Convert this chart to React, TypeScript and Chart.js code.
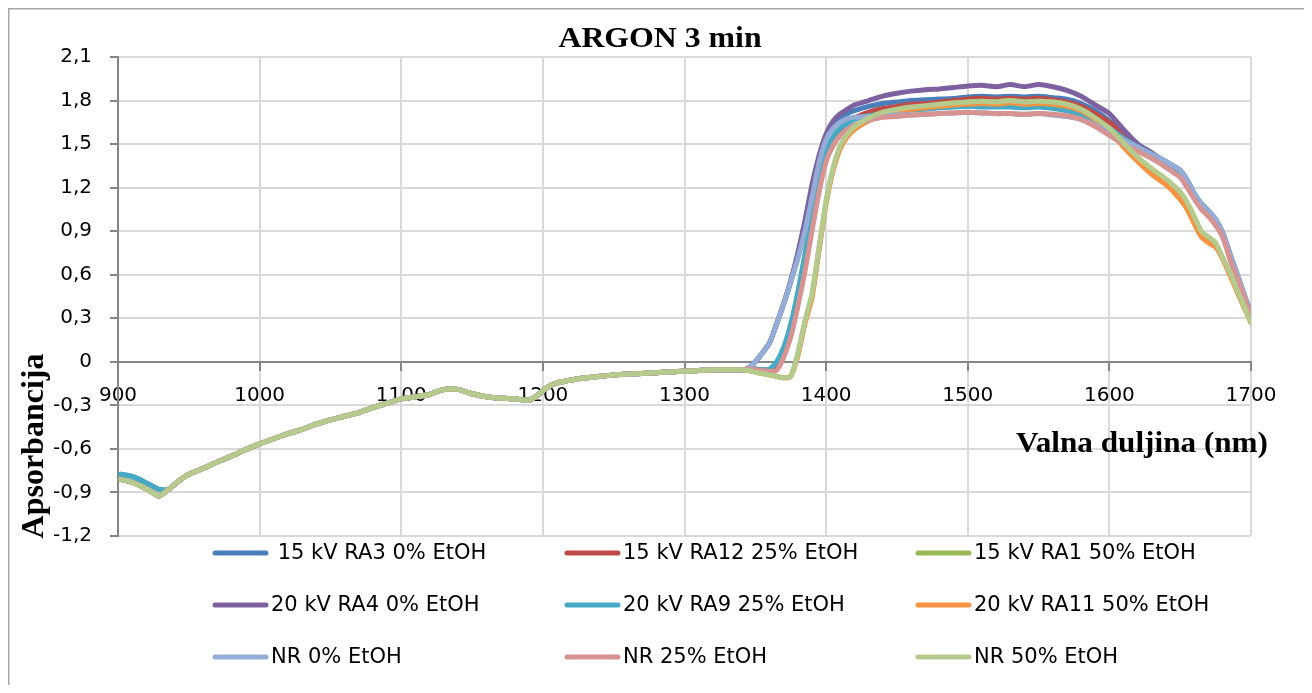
import React, { useEffect, useRef } from 'react';
import { Chart, registerables } from 'chart.js';

Chart.register(...registerables);

const TITLE = 'ARGON 3 min';
const X_TITLE = 'Valna duljina (nm)';
const Y_TITLE = 'Apsorbancija';

// Shared spectrum where all nine curves overlap (nm / absorbance)
const BASE_WL = [
  902, 910, 915, 920, 925, 929, 935, 940, 945, 950, 960, 970, 980, 990, 1000, 1010, 1020, 1030, 1040, 1050,
  1060, 1070, 1080, 1090, 1100, 1110, 1120, 1125, 1130, 1140, 1150, 1160, 1170, 1180, 1190, 1195, 1200, 1205,
  1210, 1220, 1230, 1240, 1250, 1260, 1270, 1280, 1290, 1300, 1310, 1320, 1330, 1340,
];
const BASE_ABS = [
  -0.81, -0.83, -0.85, -0.875, -0.905, -0.925, -0.885, -0.845, -0.805, -0.775, -0.735, -0.69, -0.65, -0.605,
  -0.565, -0.53, -0.495, -0.465, -0.43, -0.4, -0.375, -0.35, -0.315, -0.285, -0.255, -0.24, -0.225, -0.205,
  -0.19, -0.19, -0.22, -0.24, -0.25, -0.255, -0.265, -0.24, -0.2, -0.165, -0.145, -0.125, -0.11, -0.1, -0.09,
  -0.085, -0.08, -0.075, -0.07, -0.065, -0.06, -0.055, -0.055, -0.055,
];
// Start of the curves that begin slightly higher (902–935 nm)
const HEAD_HIGH = [-0.775, -0.79, -0.81, -0.835, -0.86, -0.88, -0.88];

// Part where the curves separate
const TAIL_WL = [
  1345, 1350, 1355, 1360, 1365, 1370, 1375, 1380, 1385, 1390, 1395, 1400, 1405, 1410, 1415, 1420,
  1430, 1440, 1450, 1460, 1470, 1480, 1490, 1500, 1510, 1520, 1530, 1540, 1550, 1560, 1570, 1580, 1590,
  1600, 1610, 1620, 1630, 1640, 1650, 1655, 1660, 1665, 1670, 1675, 1680, 1685, 1690, 1695, 1700,
];

const T_15KV_RA3 = [
  -0.045, 0.0, 0.06, 0.13, 0.26, 0.4, 0.55, 0.72, 0.92, 1.15, 1.4, 1.56, 1.62, 1.67, 1.71, 1.73,
  1.76, 1.78, 1.79, 1.8, 1.805, 1.81, 1.815, 1.825, 1.83, 1.825, 1.83, 1.825, 1.83, 1.82, 1.81, 1.78, 1.73,
  1.66, 1.58, 1.5, 1.43, 1.38, 1.32, 1.25, 1.16, 1.09, 1.04, 0.98, 0.89, 0.75, 0.61, 0.47, 0.33,
];
const T_15KV_RA12 = [
  -0.05, -0.05, -0.055, -0.055, -0.03, 0.08, 0.24, 0.46, 0.72, 1.0, 1.25, 1.44, 1.54, 1.6, 1.65, 1.68,
  1.72, 1.745, 1.76, 1.775, 1.78, 1.79, 1.8, 1.81, 1.815, 1.81, 1.815, 1.81, 1.815, 1.805, 1.79, 1.76, 1.71,
  1.65, 1.57, 1.49, 1.42, 1.37, 1.31, 1.24, 1.15, 1.08, 1.03, 0.975, 0.885, 0.74, 0.6, 0.46, 0.32,
];
const T_15KV_RA1 = [
  -0.06, -0.07, -0.08, -0.09, -0.1, -0.11, -0.1, 0.05, 0.27, 0.45, 0.78, 1.1, 1.33, 1.48, 1.56, 1.61,
  1.67, 1.71, 1.735, 1.75, 1.76, 1.77, 1.78, 1.79, 1.795, 1.79, 1.8, 1.79, 1.795, 1.79, 1.775, 1.74, 1.68,
  1.6, 1.5, 1.4, 1.32, 1.25, 1.16, 1.09, 0.99, 0.89, 0.85, 0.81, 0.71, 0.61, 0.49, 0.38, 0.27,
];
const T_20KV_RA4 = [
  -0.045, 0.0, 0.06, 0.13, 0.26, 0.4, 0.56, 0.75, 0.97, 1.22, 1.42, 1.57, 1.66, 1.71, 1.74, 1.77,
  1.8, 1.83, 1.85, 1.865, 1.875, 1.88, 1.89, 1.9, 1.905, 1.895, 1.91, 1.895, 1.91, 1.895, 1.87, 1.83, 1.77,
  1.71, 1.6, 1.5, 1.44, 1.37, 1.31, 1.24, 1.15, 1.085, 1.035, 0.98, 0.885, 0.74, 0.6, 0.46, 0.32,
];
const T_20KV_RA9 = [
  -0.05, -0.05, -0.055, -0.05, 0.0, 0.1, 0.26, 0.48, 0.74, 1.02, 1.27, 1.45, 1.55, 1.61, 1.64, 1.67,
  1.695, 1.71, 1.72, 1.735, 1.74, 1.75, 1.755, 1.76, 1.755, 1.755, 1.755, 1.75, 1.755, 1.745, 1.73, 1.705, 1.66,
  1.61, 1.54, 1.48, 1.43, 1.37, 1.31, 1.25, 1.16, 1.085, 1.035, 0.98, 0.885, 0.74, 0.6, 0.46, 0.33,
];
const T_20KV_RA11 = [
  -0.06, -0.07, -0.08, -0.09, -0.1, -0.11, -0.1, 0.04, 0.26, 0.44, 0.77, 1.09, 1.32, 1.47, 1.55, 1.6,
  1.66, 1.7, 1.725, 1.74, 1.75, 1.76, 1.77, 1.775, 1.78, 1.775, 1.785, 1.775, 1.78, 1.775, 1.76, 1.73, 1.67,
  1.59, 1.48, 1.38, 1.29, 1.22, 1.12, 1.05, 0.95, 0.86, 0.82, 0.79, 0.71, 0.6, 0.49, 0.38, 0.27,
];
const T_NR_0 = [
  -0.045, 0.0, 0.06, 0.13, 0.26, 0.4, 0.55, 0.71, 0.9, 1.13, 1.37, 1.53, 1.61, 1.65, 1.675, 1.685,
  1.69, 1.7, 1.7, 1.7, 1.705, 1.71, 1.715, 1.72, 1.715, 1.71, 1.71, 1.705, 1.71, 1.7, 1.69, 1.67, 1.63,
  1.58, 1.53, 1.48, 1.43, 1.38, 1.32, 1.25, 1.16, 1.09, 1.04, 0.985, 0.89, 0.75, 0.61, 0.47, 0.33,
];
const T_NR_25 = [
  -0.05, -0.055, -0.06, -0.065, -0.06, 0.03, 0.17, 0.38, 0.62, 0.9, 1.17, 1.38, 1.49, 1.56, 1.6, 1.63,
  1.665, 1.685, 1.69, 1.7, 1.705, 1.71, 1.715, 1.72, 1.715, 1.71, 1.71, 1.705, 1.71, 1.705, 1.695, 1.67, 1.62,
  1.56, 1.5, 1.45, 1.4, 1.34, 1.27, 1.2, 1.12, 1.05, 1.0, 0.94, 0.86, 0.71, 0.58, 0.45, 0.31,
];
const T_NR_50 = [
  -0.06, -0.07, -0.08, -0.09, -0.1, -0.11, -0.1, 0.06, 0.28, 0.47, 0.79, 1.11, 1.34, 1.49, 1.57, 1.62,
  1.68, 1.72, 1.74, 1.755, 1.765, 1.775, 1.785, 1.79, 1.795, 1.79, 1.8, 1.79, 1.795, 1.79, 1.775, 1.74, 1.68,
  1.61, 1.51, 1.41, 1.33, 1.26, 1.17, 1.1, 1.0, 0.9, 0.86, 0.82, 0.72, 0.62, 0.5, 0.39, 0.27,
];

const SERIES_LABELS = [
  ' 15 kV RA3 0% EtOH',
  '15 kV RA12 25% EtOH',
  '15 kV RA1 50% EtOH',
  '20 kV RA4 0% EtOH',
  '20 kV RA9 25% EtOH',
  '20 kV RA11 50% EtOH',
  'NR 0% EtOH',
  'NR 25% EtOH',
  'NR 50% EtOH',
];
const SERIES_TAILS = [T_15KV_RA3, T_15KV_RA12, T_15KV_RA1, T_20KV_RA4, T_20KV_RA9, T_20KV_RA11, T_NR_0, T_NR_25, T_NR_50];
const SERIES_HIGH_START = [true, false, false, false, true, false, false, false, false];
const SERIES_COLORS = ['#4A7EBB', '#BE4B48', '#98B954', '#7D60A0', '#46AAC5', '#F69240', '#93ADD6', '#D69391', '#B5CB8E'];

const Y_MIN = -1.2;
const Y_MAX = 2.1;
const Y_STEP = 0.3;
const X_MIN = 900;
const X_MAX = 1700;
const X_STEP = 100;

const CANVAS_W = 1296;
const CANVAS_H = 677;

function buildSeries(i: number) {
  const wl = [...BASE_WL, ...TAIL_WL];
  const base = SERIES_HIGH_START[i] ? [...HEAD_HIGH, ...BASE_ABS.slice(HEAD_HIGH.length)] : BASE_ABS;
  const abs = [...base, ...SERIES_TAILS[i]];
  return wl.map((x, k) => ({ x, y: abs[k] }));
}

function stretchedText(
  ctx: CanvasRenderingContext2D,
  text: string,
  x: number,
  y: number,
  sx: number,
  align: CanvasTextAlign
) {
  ctx.save();
  ctx.translate(x, y);
  ctx.scale(sx, 1);
  ctx.textAlign = align;
  ctx.fillText(text, 0, 0);
  ctx.restore();
}

const decorPlugin = {
  id: 'decor',
  beforeDraw(chart: any) {
    const ctx = chart.ctx as CanvasRenderingContext2D;
    ctx.save();
    ctx.fillStyle = '#ffffff';
    ctx.fillRect(0, 0, chart.width, chart.height);
    ctx.strokeStyle = '#a6a6a6';
    ctx.lineWidth = 1.5;
    ctx.beginPath();
    ctx.moveTo(0.75, chart.height);
    ctx.lineTo(0.75, 0.75);
    ctx.lineTo(chart.width, 0.75);
    ctx.stroke();
    ctx.restore();
  },
  afterDraw(chart: any) {
    const ctx = chart.ctx as CanvasRenderingContext2D;
    ctx.save();
    ctx.fillStyle = '#000000';
    ctx.textBaseline = 'alphabetic';
    // title
    ctx.font = 'bold 30px "Liberation Serif", "Times New Roman", serif';
    stretchedText(ctx, TITLE, 652, 39, 1.06, 'center');
    // x axis title
    ctx.font = 'bold 30px "Liberation Serif", "Times New Roman", serif';
    stretchedText(ctx, X_TITLE, 1260, 444, 1.04, 'right');
    // y axis title
    ctx.save();
    ctx.translate(27, 438);
    ctx.rotate(-Math.PI / 2);
    ctx.font = 'bold 32px "Liberation Serif", "Times New Roman", serif';
    ctx.textAlign = 'center';
    ctx.textBaseline = 'middle';
    ctx.fillText(Y_TITLE, 0, 0);
    ctx.restore();

    // legend: 3 x 3 grid
    const colX = [205, 557, 908];
    const rowY = [545, 597, 649];
    ctx.font = '21px "DejaVu Sans", sans-serif';
    ctx.textBaseline = 'middle';
    ctx.textAlign = 'left';
    chart.data.datasets.forEach((ds: any, i: number) => {
      const cx = colX[i % 3];
      const cy = rowY[Math.floor(i / 3)];
      ctx.strokeStyle = ds.borderColor;
      ctx.lineWidth = 5;
      ctx.lineCap = 'round';
      ctx.beginPath();
      ctx.moveTo(cx + 2, cy);
      ctx.lineTo(cx + 53, cy);
      ctx.stroke();
      ctx.fillStyle = '#000000';
      ctx.fillText(ds.label, cx + 58, cy + 1);
    });
    ctx.restore();
  },
};

export default function App() {
  const canvasRef = useRef<HTMLCanvasElement | null>(null);

  useEffect(() => {
    const canvas = canvasRef.current;
    if (!canvas) return;
    const datasets = SERIES_LABELS.map((label, i) => ({
      label,
      data: buildSeries(i),
      borderColor: SERIES_COLORS[i],
      backgroundColor: SERIES_COLORS[i],
      borderWidth: 5,
      pointRadius: 0,
      tension: 0.2,
      fill: false,
      order: SERIES_LABELS.length - 1 - i,
      borderCapStyle: 'round' as const,
      borderJoinStyle: 'round' as const,
    }));

    const tickFont = { family: '"DejaVu Sans", sans-serif', size: 20 };

    const chart = new Chart(canvas, {
      type: 'line',
      data: { datasets },
      plugins: [decorPlugin],
      options: {
        animation: false,
        responsive: false,
        devicePixelRatio: 1,
        layout: { padding: { left: 0, top: 49, right: 53, bottom: 149 } },
        plugins: {
          legend: { display: false },
          title: { display: false },
          tooltip: { enabled: false },
        },
        scales: {
          x: {
            type: 'linear',
            min: X_MIN,
            max: X_MAX,
            position: { y: 0 } as any,
            afterFit: (s: any) => {
              s.height = 0;
            },
            ticks: {
              stepSize: X_STEP,
              autoSkip: false,
              maxRotation: 0,
              minRotation: 0,
              padding: 14,
              color: '#000000',
              font: tickFont,
              callback: (v: any) => String(v),
            },
            grid: {
              color: (c: any) => (c.tick && c.tick.value === X_MIN ? 'rgba(0,0,0,0)' : '#d9d9d9'),
              lineWidth: 2,
              tickColor: '#868686',
              tickLength: 8,
            },
            border: { color: '#868686', width: 2 },
          },
          y: {
            type: 'linear',
            min: Y_MIN,
            max: Y_MAX,
            afterFit: (s: any) => {
              s.width = 110;
            },
            ticks: {
              stepSize: Y_STEP,
              padding: 18,
              color: '#000000',
              font: tickFont,
              callback: (v: any) => {
                const r = Math.round(Number(v) * 10) / 10;
                return r === 0 ? '0' : String(r).replace('.', ',');
              },
            },
            grid: {
              color: (c: any) => (c.tick && Math.abs(c.tick.value) < 1e-9 ? 'rgba(0,0,0,0)' : '#d9d9d9'),
              lineWidth: 2,
              tickColor: '#868686',
              tickLength: 8,
            },
            border: { color: '#868686', width: 2 },
          },
        },
      },
    });
    return () => chart.destroy();
  }, []);

  return (
    <div style={{ width: CANVAS_W, height: CANVAS_H }}>
      <canvas
        ref={canvasRef}
        width={CANVAS_W}
        height={CANVAS_H}
        style={{ display: 'block', width: CANVAS_W, height: CANVAS_H }}
      />
    </div>
  );
}
